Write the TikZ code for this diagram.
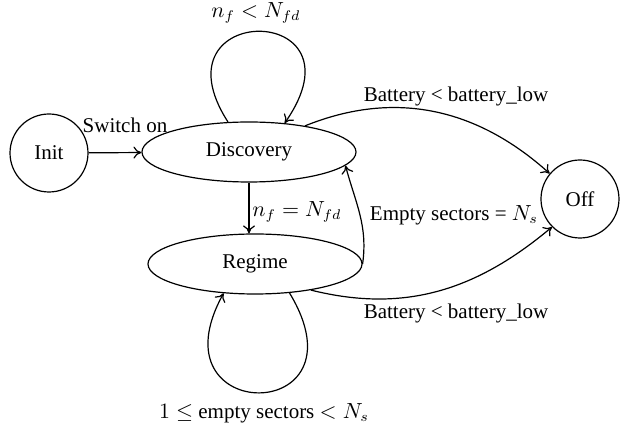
\documentclass[tikz,border=0pt]{standalone}
\usepackage{fontspec}
\setmainfont{Liberation Serif}
\usetikzlibrary{arrows.meta,shapes.geometric}

\begin{document}
\begin{tikzpicture}[x=0.5pt, y=0.5pt, line width=0.6pt,
		state/.style = {draw, circle, minimum size=39pt, inner sep=0pt},
		phase/.style = {draw, ellipse, minimum width=107pt, minimum height=30pt, inner sep=0pt},
		lbl/.style = {inner sep=1pt},
		tip/.style = {-{To[length=4pt,width=6pt]}},
		font=\fontsize{10.5}{12}\selectfont]
		\useasboundingbox (0,0) rectangle (629,429);
		% states
		\node[state] (init) at (49,276) {Init};
		\node[phase] (disc) at (249,277) {Discovery};
		\node[phase] (reg)  at (255,165) {Regime};
		\node[state] (off)  at (580,230) {Off};
		% transitions
		\draw[tip] (init) -- (disc);
		\draw[tip] (disc.125) .. controls (150,428) and (370,428) .. (disc.39);
		\draw[tip] (disc.south) -- (disc.south |- reg.north);
		\draw[tip] (reg.-40) .. controls (370,3) and (150,3) .. (reg.-137);
		\draw[tip] (reg.east) to[out=82, in=-75] (disc.-8);
		\draw[tip] (disc.25) to[out=22, in=138] (off.140);
		\draw[tip] (reg.-25) to[out=-14, in=-140] (off.-135);
		% labels
		\node[lbl] (lsw)  at (125,304) {Switch on};
		\node[lbl] (lnf)  at (256,416) {$n_f < N_{fd}$};
		\node[lbl] (leq)  at (297,217) {$n_f = N_{fd}$};
		\node[lbl] (lemp) at (454,214) {Empty sectors = $N_s$};
		\node[lbl] (lbu)  at (456,333) {Battery < battery\_low};
		\node[lbl] (lbd)  at (456,116) {Battery < battery\_low};
		\node[lbl] (lrg)  at (264,16) {$1 \leq$ empty sectors $< N_s$};
\end{tikzpicture}
\end{document}
